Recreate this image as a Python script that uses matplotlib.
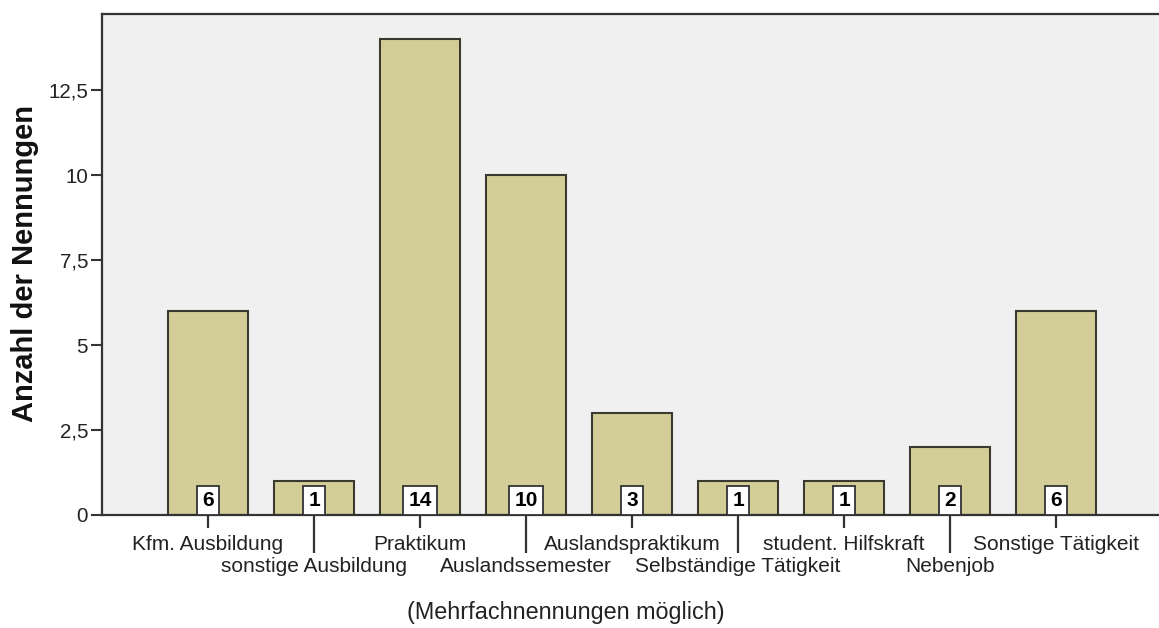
import matplotlib
matplotlib.use("Agg")
import matplotlib.pyplot as plt

categories = ["Kfm. Ausbildung", "sonstige Ausbildung", "Praktikum", "Auslandssemester",
              "Auslandspraktikum", "Selbständige Tätigkeit", "student. Hilfskraft",
              "Nebenjob", "Sonstige Tätigkeit"]
values = [6, 1, 14, 10, 3, 1, 1, 2, 6]
yticks = [0, 2.5, 5, 7.5, 10, 12.5]
ytick_labels = ["0", "2,5", "5", "7,5", "10", "12,5"]

plt.rcParams['font.family'] = ['Liberation Sans', 'DejaVu Sans']

fig = plt.figure(figsize=(11.59, 6.28), dpi=100)
fig.patch.set_facecolor('white')
ax = fig.add_axes([102/1159, 1 - 515/628, 1 - 102/1159, (515 - 14)/628])
ax.set_facecolor('#f0f0f0')

x = list(range(len(categories)))
ax.bar(x, values, width=0.76, color='#d3ce97', edgecolor='#3a3a30', linewidth=1.5, zorder=2)

ax.set_xlim(-1, 8.97)
ax.set_ylim(0, 14.74)

for s in ['left', 'top', 'bottom']:
    ax.spines[s].set_color('#333333')
    ax.spines[s].set_linewidth(1.6)
ax.spines['right'].set_visible(False)

ax.set_yticks(yticks)
ax.set_yticklabels(ytick_labels, fontsize=14.8, color='#222222')
ax.tick_params(axis='y', length=8, width=1.5, color='#333333', pad=2)

ax.set_xticks(x)
ax.set_xticklabels([])
ax.tick_params(axis='x', width=1.5, color='#333333')
for i, t in enumerate(ax.xaxis.get_major_ticks()):
    t.tick1line.set_markersize(9.4 if i % 2 == 0 else 27.4)
    t.tick1line.set_markeredgewidth(1.6)

for i, (c, v) in enumerate(zip(categories, values)):
    off = -25.2 if i % 2 == 0 else -41.0
    ax.annotate(c, xy=(i, 0), xycoords=('data', 'axes fraction'),
                xytext=(0, off), textcoords='offset points',
                ha='center', va='baseline', fontsize=15, color='#222222',
                annotation_clip=False)
    ax.annotate(str(v), xy=(i, 0), xycoords='data',
                xytext=(0, 3.6), textcoords='offset points',
                ha='center', va='bottom', fontsize=15, fontweight='bold', color='black',
                bbox=dict(boxstyle='square,pad=0.24', fc='white', ec='#333333', lw=1.3),
                zorder=5, annotation_clip=False)

fig.text(25/1159, 1 - 264/628, "Anzahl der Nennungen", rotation=90,
         ha='center', va='center', fontsize=21, fontweight='bold', color='#111111')
fig.text(566/1159, 1 - 612/628, "(Mehrfachnennungen möglich)",
         ha='center', va='center', fontsize=16.8, color='#222222')

fig.savefig("out.png", dpi=100, facecolor='white')
